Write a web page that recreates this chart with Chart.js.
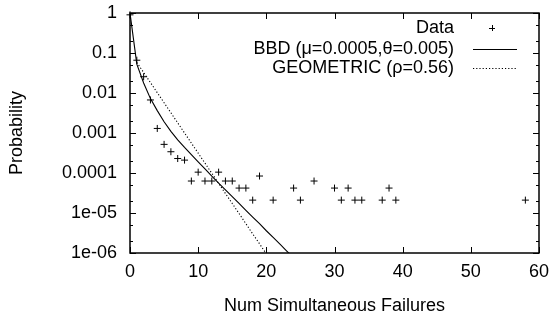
<!DOCTYPE html>
<html>
<head>
<meta charset="utf-8">
<script src="https://cdn.jsdelivr.net/npm/chart.js@4/dist/chart.umd.min.js"></script>
<style>
html,body{margin:0;padding:0;background:#fff;}
canvas{display:block;}
</style>
</head>
<body>
<canvas id="c" width="555" height="315"></canvas>
<script>
// ---- data ----
const dataX = [0,1,2,3,4,5,6,7,8,9,10,11,12,13,14,15,16,17,18,19,21,24,25,27,30,31,32,33,34,37,38,39,58];
const dataP = [0.9,0.066,0.0255,0.0067,0.0013,5.2e-4,3.4e-4,2.3e-4,2.1e-4,6.3e-5,1.05e-4,6.3e-5,6.3e-5,1.05e-4,6.3e-5,6.3e-5,4.2e-5,4.2e-5,2.1e-5,8.4e-5,2.1e-5,4.2e-5,2.1e-5,6.3e-5,4.2e-5,2.1e-5,4.2e-5,2.1e-5,2.1e-5,2.1e-5,4.2e-5,2.1e-5,2.1e-5];

const bbdX = [0,1,2,3,4,5,6,7,8,9,10,11,12,13,14,15,16,17,18,19,20,21,22,23,24];
const bbdP = [1,0.0525,0.0178,0.00724,0.00363,0.00191,0.0011,6.76e-4,4.37e-4,2.88e-4,1.91e-4,1.26e-4,8.3e-5,5.6e-5,3.8e-5,2.57e-5,1.74e-5,1.17e-5,7.9e-6,5.4e-6,3.6e-6,2.45e-6,1.66e-6,1.12e-6,7.6e-7];

const geoX = [1,2,3,4,5,6,7,8,9,10,11,12,13,14,15,16,17,18,19,20,21];
const geoP = [0.058,0.0326,0.0182,0.0102,0.00571,0.0032,0.00179,0.001,5.61e-4,3.14e-4,1.76e-4,9.84e-5,5.51e-5,3.08e-5,1.73e-5,9.7e-6,5.4e-6,3.0e-6,1.7e-6,9.5e-7,5.3e-7];

const seriesLabels = ['Data', 'BBD (\u03bc=0.0005,\u03b8=0.005)', 'GEOMETRIC (\u03c1=0.56)'];
const xTicks = [0,10,20,30,40,50,60];
const yTicks = [1,0.1,0.01,0.001,0.0001,1e-5,1e-6];
const yTickLabels = ['1','0.1','0.01','0.001','0.0001','1e-05','1e-06'];
const xTitle = 'Num Simultaneous Failures';
const yTitle = 'Probability';

// ---- styling ----
const FONT = '"Liberation Sans", Arial, Helvetica, sans-serif';
const FS = 18;
Chart.defaults.color = '#000';
Chart.defaults.font.family = FONT;
Chart.defaults.font.size = FS;

const pts = (xs, ys) => xs.map((x, i) => ({x: x, y: ys[i]}));

const framePlugin = {
  id: 'frame',
  afterDatasetsDraw(chart) {
    const ctx = chart.ctx, ca = chart.chartArea;
    const xs = chart.scales.x, ys = chart.scales.y;
    ctx.save();
    ctx.strokeStyle = '#000';
    ctx.lineWidth = 1;
    ctx.beginPath();
    xTicks.forEach(v => {
      const px = Math.round(xs.getPixelForValue(v)) + 0.5;
      ctx.moveTo(px, ca.bottom); ctx.lineTo(px, ca.bottom - 6);
      ctx.moveTo(px, ca.top); ctx.lineTo(px, ca.top + 6);
    });
    yTicks.forEach(v => {
      const py = Math.round(ys.getPixelForValue(v)) + 0.5;
      ctx.moveTo(ca.left, py); ctx.lineTo(ca.left + 6, py);
      ctx.moveTo(ca.right, py); ctx.lineTo(ca.right - 6, py);
    });
    yTicks.forEach(v => {
      [2, 5].forEach(m => {
        const val = v * m;
        if (val >= 1) return;
        const py = Math.round(ys.getPixelForValue(val)) + 0.5;
        ctx.moveTo(ca.left, py); ctx.lineTo(ca.left + 3, py);
        ctx.moveTo(ca.right, py); ctx.lineTo(ca.right - 3, py);
      });
    });
    ctx.stroke();
    ctx.lineWidth = 1.5;
    ctx.strokeRect(ca.left, ca.top, ca.right - ca.left, ca.bottom - ca.top);

    // legend (text right-aligned, sample on the right)
    ctx.font = FS + 'px ' + FONT;
    ctx.fillStyle = '#000';
    ctx.textAlign = 'right';
    ctx.textBaseline = 'middle';
    const tx = ca.right - 85, sx0 = ca.right - 66, sx1 = ca.right - 22;
    const rows = [ca.top + 15, ca.top + 36, ca.top + 55];
    chart.data.datasets.forEach((ds, i) => {
      const y = rows[i];
      ctx.fillText(ds.label, tx, y);
      ctx.beginPath();
      ctx.lineWidth = 1;
      ctx.strokeStyle = '#000';
      if (i === 0) {
        const cx = Math.round((sx0 + sx1) / 2 - 3);
        ctx.setLineDash([]);
        ctx.moveTo(cx - 3, y + 0.5); ctx.lineTo(cx + 3, y + 0.5);
        ctx.moveTo(cx + 0.5, y - 3); ctx.lineTo(cx + 0.5, y + 3);
      } else {
        ctx.setLineDash(ds.borderDash || []);
        ctx.moveTo(sx0, y + 0.5); ctx.lineTo(sx1, y + 0.5);
      }
      ctx.stroke();
    });
    ctx.setLineDash([]);
    ctx.restore();
  }
};

new Chart(document.getElementById('c'), {
  type: 'scatter',
  data: {
    datasets: [
      {
        label: seriesLabels[0],
        data: pts(dataX, dataP),
        showLine: false,
        pointStyle: 'cross',
        pointRadius: 3.5,
        pointBorderWidth: 1,
        borderColor: '#000',
        backgroundColor: '#000',
        clip: false
      },
      {
        label: seriesLabels[1],
        data: pts(bbdX, bbdP),
        showLine: true,
        pointRadius: 0,
        borderColor: '#000',
        borderWidth: 1.1,
        tension: 0,
        clip: 0
      },
      {
        label: seriesLabels[2],
        data: pts(geoX, geoP),
        showLine: true,
        pointRadius: 0,
        borderColor: '#000',
        borderWidth: 1.1,
        borderDash: [1.2, 2],
        tension: 0,
        clip: 0
      }
    ]
  },
  options: {
    responsive: false,
    animation: false,
    devicePixelRatio: 1,
    layout: { padding: { top: 13, right: 16, left: 0, bottom: 0 } },
    plugins: { legend: { display: false }, tooltip: { enabled: false } },
    scales: {
      x: {
        type: 'linear',
        min: 0, max: 60,
        grid: { display: false, drawTicks: false },
        border: { display: false },
        afterBuildTicks: s => { s.ticks = xTicks.map(v => ({value: v})); },
        ticks: { padding: 8, maxRotation: 0, autoSkip: false, callback: v => String(v) },
        title: { display: true, text: xTitle, font: { size: FS, lineHeight: 1 }, padding: { top: 0, bottom: 0 } },
        afterFit: s => { s.height = 62; s.paddingLeft = 0; s.paddingRight = 0; }
      },
      y: {
        type: 'logarithmic',
        min: 1e-6, max: 1,
        grid: { display: false, drawTicks: false },
        border: { display: false },
        afterBuildTicks: s => { s.ticks = yTicks.map(v => ({value: v})); },
        ticks: {
          padding: 13, autoSkip: false,
          callback: function(v) { const i = yTicks.findIndex(t => Math.abs(Math.log10(t) - Math.log10(v)) < 1e-6); return i >= 0 ? yTickLabels[i] : ''; }
        },
        title: { display: true, text: yTitle, font: { size: FS, lineHeight: 1 }, padding: { top: 8, bottom: 0 } },
        afterFit: s => { s.width = 130; s.paddingTop = 0; s.paddingBottom = 0; }
      }
    }
  },
  plugins: [framePlugin]
});
</script>
</body>
</html>
